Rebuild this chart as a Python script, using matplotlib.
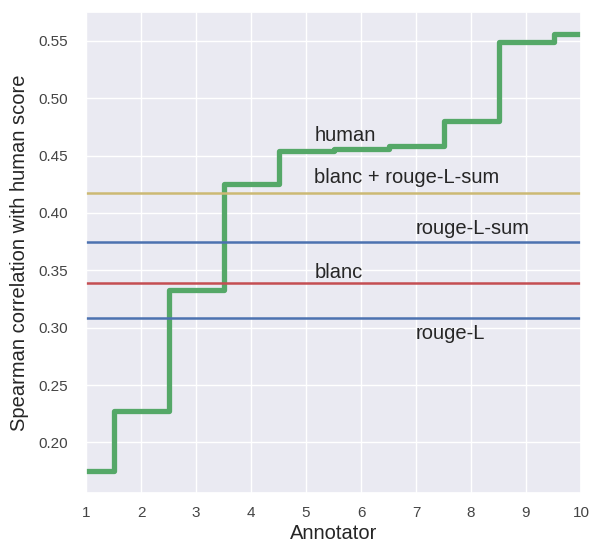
import numpy as np
import matplotlib
matplotlib.use("Agg")
import matplotlib.pyplot as plt
import seaborn as sns

sns.set_theme(style="darkgrid")
plt.rcParams['font.family'] = ['Liberation Sans', 'DejaVu Sans']

# data
annotators = [1, 2, 3, 4, 5, 6, 7, 8, 9, 10]
human = [0.175, 0.227, 0.333, 0.425, 0.454, 0.456, 0.458, 0.480, 0.549, 0.556]
metric_names = ["blanc + rouge-L-sum", "rouge-L-sum", "blanc", "rouge-L"]
metric_values = [0.417, 0.375, 0.339, 0.308]
metric_colors = ["#CCB974", "#4C72B0", "#C44E52", "#4C72B0"]
label_x = [5.15, 7.0, 5.15, 7.0]
label_y = [0.426, 0.382, 0.343, 0.290]

fig = plt.figure(figsize=(5.89, 5.45), dpi=100)
ax = fig.add_subplot(111)
fig.subplots_adjust(left=86/589, right=581/589, top=1-12/545, bottom=1-493/545)

ax.step(annotators, human, where='mid', color="#55A868", lw=3.8)
for v, c in zip(metric_values, metric_colors):
    ax.axhline(v, color=c, lw=1.8)

ax.text(5.15, 0.463, "human", fontsize=14.5, color="#262626")
for name, x, y in zip(metric_names, label_x, label_y):
    ax.text(x, y, name, fontsize=14.5, color="#262626")

ax.set_xlim(1, 10)
ax.set_xticks(annotators)
ax.tick_params(labelsize=11, labelcolor="#444444")
ax.tick_params(axis='y', pad=7)
ax.set_xlabel("Annotator", fontsize=14.5, labelpad=3)
ax.set_ylabel("Spearman correlation with human score", fontsize=14.5, labelpad=7)

fig.savefig("out.png", dpi=100)
